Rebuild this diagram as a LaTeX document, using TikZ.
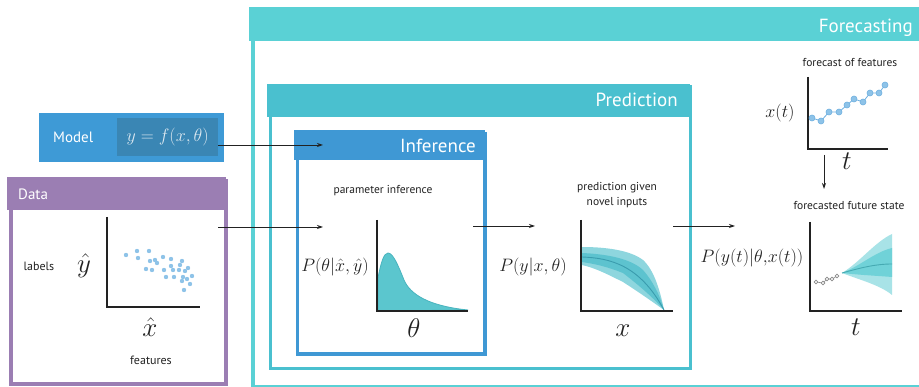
\RequirePackage{fix-cm}
\documentclass[tikz,border=0pt]{standalone}
\usepackage[no-math]{fontspec}
\setmainfont{PT Sans}
\usetikzlibrary{arrows.meta,calc,positioning}

\definecolor{ink}{HTML}{222222}
\definecolor{fccol}{HTML}{5AD1D5}
\definecolor{prcol}{HTML}{4AC0CF}
\definecolor{incol}{HTML}{3F98D4}
\definecolor{mdcol}{HTML}{3E9AD6}
\definecolor{mdeqcol}{HTML}{3A86B4}
\definecolor{dtcol}{HTML}{9B7EB3}
\definecolor{dotcol}{HTML}{8EC3E8}
\definecolor{dotedge}{HTML}{6FB0E0}
\definecolor{gamfill}{HTML}{5BC6CE}
\definecolor{gamedge}{HTML}{49B4BE}
\definecolor{bandout}{HTML}{8ED6DE}
\definecolor{bandin}{HTML}{5DC3CF}
\definecolor{bandmean}{HTML}{3A9CAE}
\definecolor{fsout}{HTML}{A8E3E7}
\definecolor{fsin}{HTML}{70D2D8}
\definecolor{fsmean}{HTML}{45AAB2}
\definecolor{histcol}{HTML}{8A8A8A}
\definecolor{eqtext}{HTML}{DCE8F0}

\begin{document}
\begin{tikzpicture}[x=1pt,y=-1pt,>={Stealth[length=6pt,width=4pt]},
  panel/.style={draw,line width=#1,fill=white,inner sep=0pt,anchor=north west},
  head/.style={fill=#1,inner sep=0pt,anchor=north west},
  title/.style={text=white,inner sep=0pt,font=\fontsize{19}{22}\selectfont},
  smalltitle/.style={text=white,inner sep=0pt,font=\fontsize{15}{18}\selectfont},
  capt/.style={text=ink,inner sep=0pt,align=center,font=\fontsize{12}{15}\selectfont},
  eq/.style={text=ink,inner sep=0pt,font=\fontsize{18}{20}\selectfont},
  bigm/.style={text=ink,inner sep=0pt,font=\fontsize{27}{30}\selectfont},
  axis/.style={draw=ink,line width=1.6pt},
  conn/.style={draw=ink,line width=0.9pt}]
  \useasboundingbox (0,0) rectangle (919,387);

  % Forecasting panel
  \node[panel=4pt,draw=fccol,minimum width=709pt,minimum height=376pt] (fcpanel) at (251,9) {};
  \node[head=fccol,minimum width=720pt,minimum height=34pt] (fchead) at (249,7) {};
  \node[title,anchor=base east] (fctitle) at (913,33) {Forecasting};

  % Prediction panel
  \node[panel=3pt,draw=prcol,minimum width=420pt,minimum height=282pt] (prpanel) at (268.5,85.5) {};
  \node[head=prcol,minimum width=423pt,minimum height=33pt] (prhead) at (267,84) {};
  \node[title,anchor=base east] (prtitle) at (678,107) {Prediction};

  % Inference panel
  \node[panel=3.5pt,draw=incol,minimum width=187.5pt,minimum height=220.5pt] (inpanel) at (295.75,131.75) {};
  \node[head=incol,minimum width=191pt,minimum height=30pt] (inhead) at (294,130) {};
  \node[title,anchor=base east] (intitle) at (476,153) {Inference};

  % Model
  \node[head=mdcol,minimum width=185pt,minimum height=49pt] (mdbox) at (39,113) {};
  \node[head=mdeqcol,minimum width=101pt,minimum height=38pt,text=eqtext,
    font=\fontsize{18}{20}\selectfont] (mdeq) at (117,118) {$y=f(x,\theta)$};
  \node[smalltitle,anchor=base west] (mdtitle) at (53,143) {Model};

  % Data panel
  \node[panel=4pt,draw=dtcol,minimum width=215pt,minimum height=203pt] (dtpanel) at (9,179) {};
  \node[head=dtcol,minimum width=219pt,minimum height=33pt] (dthead) at (7,177) {};
  \node[smalltitle,anchor=base west] (dttitle) at (18,200) {Data};

  % data scatter
  \draw[axis] (107,217) -- (107,307) -- (200,307);
  \foreach \px/\py in {126/255,137/251,149/251,138/258,150/261,155/260,157/263,
      163/257,171/259,182/261,180/265,171/266,146/269,152/270,164/270,173/270,
      179/270,185/271,188/268,166/277,174/277,183/277,187/279,192/276,182/281,
      190/284,184/290}
    \fill[dotcol] (\px,\py) circle (2.2pt);
  \node[capt] (lbl) at (39,266) {labels};
  \node[bigm] (yhat) at (84,266) {$\hat y$};
  \node[bigm] (xhat) at (150,327) {$\hat x$};
  \node[capt] (feat) at (151,360) {features};

  % parameter inference
  \node[capt,font=\fontsize{11.5}{14}\selectfont] (incap) at (383,191) {parameter inference};
  \filldraw[fill=gamfill,draw=gamedge,line width=0.8pt] (378,311) -- (378,278)
    .. controls (381,262) and (384,253) .. (388,253)
    .. controls (393,253) and (398,265) .. (404,280)
    .. controls (410,294) and (428,306) .. (468,310) -- cycle;
  \draw[axis] (377,220) -- (377,311) -- (468,311);
  \node[eq] (pin) at (335,267) {$P(\theta|\hat x,\hat y)$};
  \node[bigm] (theta) at (414,328) {$\theta$};

  % prediction given novel inputs
  \node[capt,font=\fontsize{11.5}{15}\selectfont] (prcap) at (617,195) {prediction given\\ novel inputs};
  \fill[bandout] (582,247) .. controls (605,247) and (630,250) .. (643,260)
    .. controls (654,270) and (660,290) .. (664,310)
    .. controls (650,300) and (640,293) .. (623,282)
    .. controls (605,273) and (595,268) .. (582,265) -- cycle;
  \fill[bandin] (582,253) .. controls (605,254) and (630,258) .. (643,270)
    .. controls (652,280) and (660,295) .. (664,310)
    .. controls (655,300) and (645,290) .. (623,273)
    .. controls (605,266) and (595,264) .. (582,262) -- cycle;
  \draw[bandmean,line width=0.9pt] (582,257) .. controls (610,258) and (640,265) .. (664,310);
  \draw[axis] (581,220) -- (581,311) -- (673,311);
  \node[eq] (ppr) at (533,267) {$P(y|x,\theta)$};
  \node[bigm] (xin) at (623,331) {$x$};

  % forecast of features
  \node[capt,font=\fontsize{11.5}{14}\selectfont] (ftcap) at (850,63) {forecast of features};
  \draw[axis] (808,77) -- (808,149) -- (888,149);
  \draw[dotedge,line width=0.8pt] plot coordinates {(812,118) (821,121) (829,112) (839,112)
    (847,105) (854,99) (863,102) (870,93) (879,93) (885,85)};
  \foreach \px/\py in {812/118,821/121,829/112,839/112,847/105,854/99,863/102,870/93,879/93,885/85}
    \filldraw[fill=dotcol,draw=dotedge,line width=0.6pt] (\px,\py) circle (3pt);
  \node[eq] (xt) at (780,113) {$x(t)$};
  \node[bigm] (tft) at (847,161) {$t$};

  % forecasted future state
  \node[capt,font=\fontsize{11.5}{14}\selectfont] (fscap) at (849,206) {forecasted future state};
  \fill[fsout] (842,273) .. controls (860,262) and (875,242) .. (892,234)
    -- (892,295) .. controls (880,285) and (860,280) .. (842,273) -- cycle;
  \fill[fsin] (842,273) .. controls (860,266) and (875,252) .. (892,248)
    -- (892,277) .. controls (880,276) and (860,275) .. (842,273) -- cycle;
  \draw[fsmean,line width=0.9pt] (842,273) .. controls (860,268) and (875,264) .. (892,264);
  \draw[histcol,line width=0.6pt] plot coordinates {(816,282) (823,283) (827,279) (832,279) (837,276)};
  \foreach \px/\py in {816/282,823/283,827/279,832/279,837/276}
    \filldraw[fill=white,draw=histcol,line width=0.6pt] (\px,\py) circle (1.9pt);
  \draw[axis] (810,222) -- (810,311) -- (902,311);
  \node[eq] (pfs) at (752,258) {$P(y(t)|\theta{,}x(t))$};
  \node[bigm] (tfs) at (856,327) {$t$};

  % connectors
  \coordinate (mdin) at (323,145);
  \coordinate (dtout) at (218,227);
  \coordinate (inin) at (323,227);
  \coordinate (inout) at (473,226);
  \coordinate (prin) at (535,226);
  \coordinate (prout) at (673,226);
  \coordinate (fcin) at (735,226);
  \coordinate (ftout) at (824,155);
  \coordinate (fsin) at (824,189);
  \draw[conn,->] (mdeq.east |- mdin) -- (mdin);
  \draw[conn,->] (dtout) -- (inin);
  \draw[conn,->] (inout) -- (prin);
  \draw[conn,->] (prout) -- (fcin);
  \draw[conn,->] (ftout) -- (fsin);
\end{tikzpicture}
\end{document}
